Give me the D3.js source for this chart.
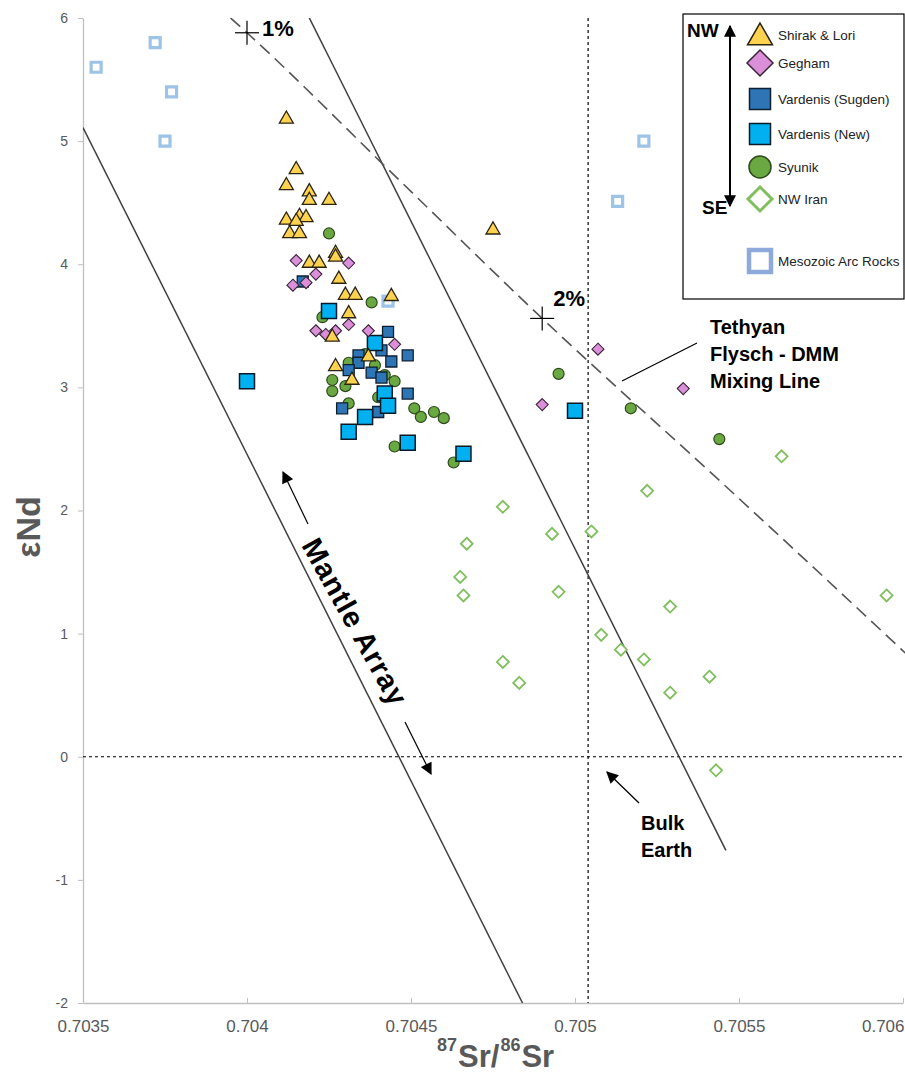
<!DOCTYPE html>
<html>
<head>
<meta charset="utf-8">
<script src="https://cdn.jsdelivr.net/npm/d3@7"></script>
<style>
  html, body { margin: 0; padding: 0; background: #fff; }
  svg { display: block; }
</style>
</head>
<body>
<script>
// ---- data: [87Sr/86Sr, εNd] ----
const shirakLori = [
  [0.70412,5.19],[0.70415,4.78],[0.70412,4.65],[0.70419,4.60],[0.70419,4.53],[0.70425,4.53],
  [0.70412,4.37],[0.70416,4.40],[0.70418,4.39],[0.70415,4.36],[0.70413,4.26],[0.70416,4.26],
  [0.70427,4.10],[0.70427,4.07],[0.70419,4.02],[0.70422,4.02],[0.70428,3.89],[0.70430,3.76],
  [0.70433,3.76],[0.70444,3.75],[0.70431,3.61],[0.70426,3.42],[0.70427,3.18],[0.70437,3.26],
  [0.70432,3.07],[0.70475,4.29]
];
const gegham = [
  [0.70415,4.03],[0.70431,4.01],[0.70421,3.92],[0.70414,3.83],[0.70418,3.85],
  [0.70421,3.46],[0.70424,3.43],[0.70427,3.46],[0.70431,3.51],[0.70437,3.46],[0.70445,3.35],
  [0.70507,3.31],[0.70490,2.86],[0.70533,2.99]
];
const vardenisSugden = [
  [0.70417,3.86],[0.70443,3.45],[0.70434,3.26],[0.70441,3.30],[0.70449,3.26],[0.70444,3.21],
  [0.70434,3.20],[0.70431,3.14],[0.70438,3.12],[0.70441,3.08],[0.70449,2.95],[0.70429,2.83],
  [0.70440,2.80]
];
const vardenisNew = [
  [0.70400,3.05],[0.70425,3.62],[0.70439,3.36],[0.70442,2.95],[0.70443,2.85],[0.70436,2.76],
  [0.70431,2.64],[0.70449,2.55],[0.70466,2.46],[0.70500,2.81]
];
const syunik = [
  [0.70425,4.25],[0.70438,3.69],[0.70423,3.57],[0.70436,3.27],[0.70431,3.20],[0.70439,3.18],
  [0.70442,3.10],[0.70445,3.05],[0.70426,3.06],[0.70430,3.01],[0.70426,2.97],[0.70440,2.92],
  [0.70431,2.87],[0.70451,2.83],[0.70453,2.76],[0.70457,2.80],[0.70460,2.75],[0.70445,2.52],
  [0.70463,2.39],[0.70495,3.11],[0.70517,2.83],[0.70544,2.58]
];
const nwIran = [
  [0.70478,2.03],[0.70467,1.73],[0.70493,1.81],[0.70505,1.83],[0.70522,2.16],[0.70465,1.46],
  [0.70466,1.31],[0.70495,1.34],[0.70529,1.22],[0.70595,1.31],[0.70508,0.99],[0.70514,0.87],
  [0.70521,0.79],[0.70478,0.77],[0.70483,0.60],[0.70529,0.52],[0.70541,0.65],[0.70543,-0.11],
  [0.70563,2.44]
];
const mesozoicArc = [
  [0.70354,5.60],[0.70372,5.80],[0.70377,5.40],[0.70375,5.00],[0.70443,3.70],[0.70521,5.00],[0.70513,4.51]
];

// reference lines
const mantleArrayLow  = [[0.7035,5.11],[0.70484,-2]];
const mantleArrayHigh = [[0.70419,6.0],[0.70546,-0.76]];
const mixingLine = [[0.70395,6.0],[0.70400,5.88],[0.70445,4.72],[0.70490,3.56],[0.70545,2.22],[0.70600,0.86],[0.70610,0.61]];
const mixingMarks = [[0.70400,5.88,"1%"],[0.70490,3.56,"2%"]];
const bulkEarthSr = 0.70504;
const bulkEarthNd = 0;

// axes
const xTicks = [0.7035,0.704,0.7045,0.705,0.7055,0.706];
const xTickLabels = ["0.7035","0.704","0.7045","0.705","0.7055","0.706"];
const yTicks = [-2,-1,0,1,2,3,4,5,6];

const W = 905, H = 1075;
const svg = d3.select("body").append("svg").attr("width", W).attr("height", H)
  .style("font-family", "'Liberation Sans', Arial, sans-serif");

const x = d3.scaleLinear().domain([0.7035, 0.706]).range([83, 903]);
const y = d3.scaleLinear().domain([-2, 6]).range([1003, 18]);

const defs = svg.append("defs");
defs.append("clipPath").attr("id", "plotClip")
  .append("rect").attr("x", 83).attr("y", 18).attr("width", W - 83).attr("height", 1003 - 18);
defs.append("marker").attr("id", "arrowHead").attr("viewBox", "0 0 10 10")
  .attr("refX", 9).attr("refY", 5).attr("markerWidth", 14).attr("markerHeight", 12)
  .attr("markerUnits", "userSpaceOnUse").attr("orient", "auto-start-reverse")
  .append("path").attr("d", "M0,0 L10,5 L0,10 Z").attr("fill", "#000");

// ---- axes ----
const axisColor = "#bfbfbf", labelColor = "#595959";
const xAxis = svg.append("g").attr("transform", "translate(0,1003)")
  .call(d3.axisBottom(x).tickValues(xTicks).tickFormat((d, i) => xTickLabels[i]).tickSizeInner(-5).tickSizeOuter(0).tickPadding(17));
xAxis.select(".domain").attr("stroke", axisColor).attr("stroke-width", 1.3);
xAxis.selectAll(".tick line").attr("stroke", axisColor);
xAxis.selectAll(".tick text").attr("fill", labelColor)
  .style("font-family", "'Liberation Sans Narrow', 'Liberation Sans', sans-serif").style("font-size", "17px");
// the last label is kept inside the chart edge
xAxis.selectAll(".tick").filter(d => d === xTicks[xTicks.length - 1]).select("text")
  .attr("text-anchor", "end").attr("dx", 1);

const yAxis = svg.append("g").attr("transform", "translate(83,0)")
  .call(d3.axisLeft(y).tickValues(yTicks).tickFormat(d3.format("d")).tickSizeInner(5).tickSizeOuter(0).tickPadding(10));
yAxis.select(".domain").attr("stroke", axisColor).attr("stroke-width", 1.3);
yAxis.selectAll(".tick line").attr("stroke", axisColor);
yAxis.selectAll(".tick text").attr("fill", labelColor).style("font-size", "14px")
  .text(d => d < 0 ? "-" + Math.abs(d) : d);

// axis titles: 87Sr/86Sr laid out piece by piece
const titleStyle = sel => sel.attr("fill", labelColor).style("font-weight", "bold");
let tx = 437;
[["87", 18, 1051], ["Sr/", 31, 1067], ["86", 18, 1051], ["Sr", 31, 1067]].forEach(p => {
  const t = svg.append("text").attr("x", tx).attr("y", p[2]).call(titleStyle).style("font-size", p[1] + "px").text(p[0]);
  tx += t.node().getComputedTextLength() + 1;
});

svg.append("text").attr("transform", "translate(40,527) rotate(-90)").attr("text-anchor", "middle")
  .call(titleStyle).style("font-size", "34px").text("εNd");

// ---- reference lines ----
const plot = svg.append("g").attr("clip-path", "url(#plotClip)");
const line = d3.line().x(d => x(d[0])).y(d => y(d[1]));

plot.append("line").attr("x1", 83).attr("x2", W).attr("y1", y(bulkEarthNd)).attr("y2", y(bulkEarthNd))
  .attr("stroke", "#000").attr("stroke-width", 1.2).attr("stroke-dasharray", "3,3");
plot.append("line").attr("x1", x(bulkEarthSr)).attr("x2", x(bulkEarthSr)).attr("y1", 18).attr("y2", 1003)
  .attr("stroke", "#000").attr("stroke-width", 1.2).attr("stroke-dasharray", "3,3");

[mantleArrayLow, mantleArrayHigh].forEach(a => {
  plot.append("path").datum(a).attr("d", line).attr("fill", "none").attr("stroke", "#404040").attr("stroke-width", 1.5);
});
plot.append("path").datum(mixingLine).attr("d", line.curve(d3.curveMonotoneX)).attr("fill", "none")
  .attr("stroke", "#555").attr("stroke-width", 1.6).attr("stroke-dasharray", "13,7");

// mixing percentage crosses
const markLabelOffset = [[15, 3], [11, -12]];
mixingMarks.forEach((m, i) => {
  const cx = x(m[0]), cy = y(m[1]);
  plot.append("line").attr("x1", cx - 12).attr("x2", cx + 12).attr("y1", cy).attr("y2", cy).attr("stroke", "#000").attr("stroke-width", 1.2);
  plot.append("line").attr("x1", cx).attr("x2", cx).attr("y1", cy - 12).attr("y2", cy + 12).attr("stroke", "#000").attr("stroke-width", 1.2);
  svg.append("text").attr("x", cx + markLabelOffset[i][0]).attr("y", cy + markLabelOffset[i][1])
    .style("font-weight", "bold").style("font-size", "22px").text(m[2]);
});

// ---- symbols ----
const triPath = s => { const h = s * 0.87; return `M0,${-h*0.55}L${s/2},${h*0.45}L${-s/2},${h*0.45}Z`; };
const diaPath = s => `M0,${-s/2}L${s/2},0L0,${s/2}L${-s/2},0Z`;
const sqPath = s => `M${-s/2},${-s/2}h${s}v${s}h${-s}Z`;
const circPath = s => `M${s/2},0A${s/2},${s/2} 0 1 1 ${-s/2},0A${s/2},${s/2} 0 1 1 ${s/2},0Z`;

const series = [
  { name: "Mesozoic Arc Rocks", data: mesozoicArc, shape: sqPath, size: 10, fill: "#fff", stroke: "#9dc3e6", sw: 3.2 },
  { name: "NW Iran", data: nwIran, shape: diaPath, size: 12, fill: "#fff", stroke: "#80bf5e", sw: 1.8 },
  { name: "Syunik", data: syunik, shape: circPath, size: 11, fill: "#6aa842", stroke: "#2d4a1c", sw: 1.2 },
  { name: "Vardenis (Sugden)", data: vardenisSugden, shape: sqPath, size: 11, fill: "#2e75b6", stroke: "#0d1f33", sw: 1.3 },
  { name: "Vardenis (New)", data: vardenisNew, shape: sqPath, size: 15, fill: "#00b0f0", stroke: "#0a1a26", sw: 1.5 },
  { name: "Gegham", data: gegham, shape: diaPath, size: 12, fill: "#da8fd8", stroke: "#3a243a", sw: 1.1 },
  { name: "Shirak & Lori", data: shirakLori, shape: triPath, size: 14, fill: "#ffd34f", stroke: "#2a2410", sw: 1.3 }
];

series.forEach(s => {
  svg.append("g").selectAll("path").data(s.data).join("path")
    .attr("transform", d => `translate(${x(d[0])},${y(d[1])})`)
    .attr("d", s.shape(s.size))
    .attr("fill", s.fill).attr("stroke", s.stroke).attr("stroke-width", s.sw).attr("stroke-linejoin", "miter");
});

// ---- annotations ----
const bold = sel => sel.style("font-weight", "bold").style("font-size", "20px").attr("fill", "#000");
const teth = svg.append("text").call(bold);
["Tethyan", "Flysch - DMM", "Mixing Line"].forEach((t, i) =>
  teth.append("tspan").attr("x", 710).attr("y", 334 + i * 27).text(t));
svg.append("line").attr("x1", 697).attr("y1", 343).attr("x2", 622).attr("y2", 381).attr("stroke", "#000").attr("stroke-width", 1.2);

const be = svg.append("text").call(bold);
["Bulk", "Earth"].forEach((t, i) => be.append("tspan").attr("x", 641).attr("y", 830 + i * 27).text(t));
svg.append("line").attr("x1", 639).attr("y1", 803).attr("x2", 607).attr("y2", 772)
  .attr("stroke", "#000").attr("stroke-width", 1.3).attr("marker-end", "url(#arrowHead)");

// Mantle Array label with arrows along the band
svg.append("text").attr("transform", "translate(355,622) rotate(61)").attr("text-anchor", "middle")
  .attr("dominant-baseline", "central").call(bold).style("font-size", "29px").style("letter-spacing", "1px")
  .text("Mantle Array");
svg.append("line").attr("x1", 308).attr("y1", 524).attr("x2", 283).attr("y2", 472)
  .attr("stroke", "#000").attr("stroke-width", 1.2).attr("marker-end", "url(#arrowHead)");
svg.append("line").attr("x1", 405).attr("y1", 722).attr("x2", 431).attr("y2", 774)
  .attr("stroke", "#000").attr("stroke-width", 1.2).attr("marker-end", "url(#arrowHead)");

// ---- legend ----
const lg = svg.append("g");
lg.append("rect").attr("x", 683).attr("y", 14).attr("width", 221).attr("height", 285)
  .attr("fill", "#fff").attr("stroke", "#000").attr("stroke-width", 1.2);
lg.append("line").attr("x1", 730).attr("x2", 730).attr("y1", 26).attr("y2", 206)
  .attr("stroke", "#000").attr("stroke-width", 2)
  .attr("marker-start", "url(#arrowHead)").attr("marker-end", "url(#arrowHead)");
lg.append("text").attr("x", 687).attr("y", 37).call(bold).style("font-size", "19px").text("NW");
lg.append("text").attr("x", 702).attr("y", 214).call(bold).style("font-size", "19px").text("SE");

const legendItems = [
  { s: series[6], y: 35, size: 25 },
  { s: series[5], y: 63, size: 26 },
  { s: series[3], y: 99, size: 21 },
  { s: series[4], y: 134, size: 21 },
  { s: series[2], y: 167, size: 22 },
  { s: series[1], y: 199, size: 24, sw: 3 },
  { s: series[0], y: 261, size: 22, sw: 4.5, stroke: "#8eaadb" }
];
legendItems.forEach(it => {
  lg.append("path").attr("transform", `translate(760,${it.y})`).attr("d", it.s.shape(it.size))
    .attr("fill", it.s.fill).attr("stroke", it.stroke || it.s.stroke).attr("stroke-width", it.sw || 1.5);
  lg.append("text").attr("x", 778).attr("y", it.y).attr("dominant-baseline", "central")
    .style("font-size", "13.5px").attr("fill", "#222").text(it.s.name);
});
</script>
</body>
</html>
